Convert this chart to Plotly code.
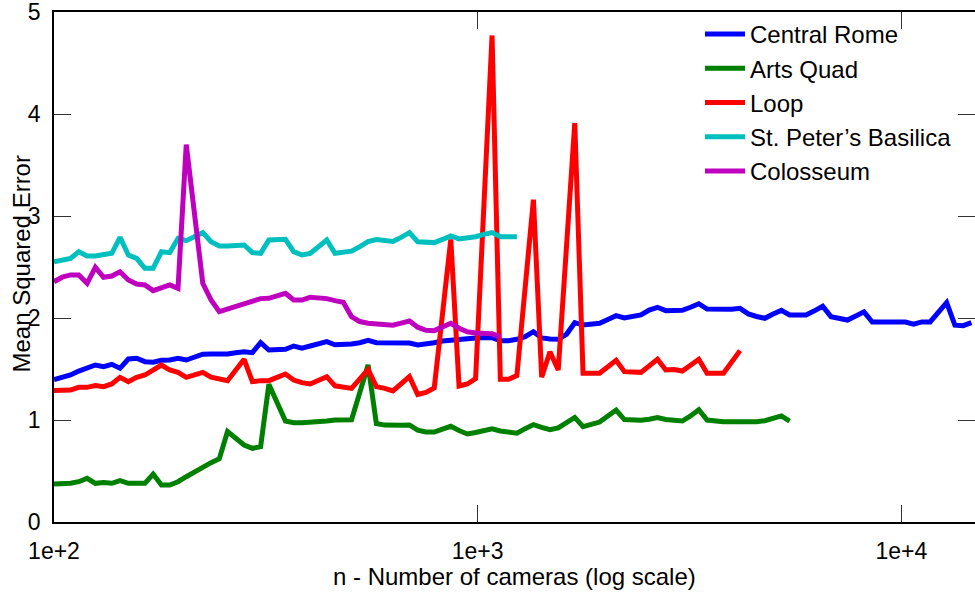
import plotly.graph_objects as go

# Number of cameras (sample grid, log-spaced)
n_cameras = [
    100, 104.6, 109.4, 114.4, 119.7, 125.2, 130.9, 136.9, 143.2, 149.8,
    156.7, 163.9, 171.4, 179.3, 187.6, 196.2, 205.2, 214.6, 224.5, 234.8,
    245.6, 256.8, 268.7, 281.0, 293.9, 307.4, 321.5, 336.3, 351.8, 367.9,
    384.8, 402.5, 421.0, 440.4, 460.6, 481.8, 503.9, 527.1, 551.3, 576.7,
    603.2, 630.9, 659.9, 690.2, 722.0, 755.2, 789.9, 826.2, 864.2, 903.9,
    945.5, 988.9, 1034, 1081.5, 1131.3, 1183.3, 1237.7, 1294.6, 1354.1, 1416.4,
    1481.5, 1549.6, 1620.9, 1695.4, 1773.3, 1854.8, 1940.1, 2029.3, 2122.6, 2220.2,
    2322.2, 2429.0, 2540.6, 2657.4, 2779.6, 2907.3, 3041.0, 3180.8, 3327.0, 3479.9,
    3637, 3805, 3979, 4162, 4354, 4554, 4763, 4982, 5211, 5450,
    5700, 5962, 6236, 6523, 6823, 7136, 7464, 7807, 8165, 8541,
    8933, 9343, 9773, 10222, 10692, 11183, 11697, 12234, 12796, 13384,
    13999, 14642,
]

central_rome = [
    1.395, 1.42, 1.441, 1.48, 1.507, 1.539, 1.523, 1.546, 1.507, 1.598,
    1.605, 1.572, 1.567, 1.585, 1.588, 1.605, 1.588, 1.621, 1.645, 1.647,
    1.647, 1.647, 1.66, 1.67, 1.66, 1.758, 1.686, 1.686, 1.693, 1.725,
    1.705, 1.725, 1.75, 1.768, 1.738, 1.738, 1.745, 1.758, 1.78, 1.758,
    1.758, 1.758, 1.758, 1.755, 1.735, 1.742, 1.758, 1.775, 1.784, 1.784,
    1.797, 1.804, 1.807, 1.807, 1.778, 1.778, 1.791, 1.817, 1.866, 1.805,
    1.794, 1.791, 1.84, 1.954, 1.931, 1.944, 1.948, 1.985, 2.023, 2.0,
    2.013, 2.03, 2.078, 2.105, 2.072, 2.078, 2.075, 2.105, 2.14, 2.088,
    2.085, 2.08, 2.085, 2.095, 2.04, 2.015, 1.997, 2.04, 2.075, 2.03,
    2.03, 2.03, 2.07, 2.115, 2.013, 2.0, 1.98, 2.02, 2.06, 1.96,
    1.96, 1.962, 1.965, 1.96, 1.94, 1.962, 1.962, 2.05, 2.15, 1.93,
    1.925, 1.955,
]

arts_quad = [
    0.373, 0.373, 0.38, 0.395, 0.428, 0.379, 0.386, 0.379, 0.405, 0.379,
    0.379, 0.379, 0.47, 0.363, 0.363, 0.395, 0.444, 0.493, 0.542, 0.582,
    0.62, 0.886, None, 0.755, 0.722, 0.739, 1.35, None, 0.99, 0.974,
    0.974, 0.977, 0.984, 0.99, 1.0, 1.0, 1.003, None, 1.54, 0.965,
    0.95, 0.945, 0.948, 0.951, 0.90, 0.882, 0.882, 0.91, 0.938, 0.897,
    0.863, 0.878, 0.895, 0.913, 0.892, 0.876, 0.87, 0.915, 0.955, 0.928,
    0.905, 0.922, 0.967, 1.025, 0.935, 0.958, 0.98, 1.04, 1.098, 1.004,
    1.0, 0.997, 1.007, 1.025, 1.005, 0.998, 0.99, 1.04, 1.1, 1.0,
    0.99, 0.984, 0.984, 0.984, 0.976, 0.984, 0.993, 1.016, 1.04, 0.99,
]

loop = [
    1.288, 1.29, 1.294, 1.32, 1.32, 1.337, 1.327, 1.353, 1.418, 1.376,
    1.418, 1.441, 1.484, 1.539, 1.49, 1.467, 1.418, 1.445, 1.467, 1.42,
    1.405, 1.385, None, 1.595, 1.376, 1.386, 1.386, 1.418, 1.451, 1.392,
    1.366, 1.353, 1.39, 1.425, 1.335, 1.32, 1.31, None, 1.495, 1.327,
    1.31, 1.285, None, 1.425, 1.25, 1.27, 1.315, None, 2.77, 1.333,
    1.353, 1.405, None, 4.77, 1.40, 1.40, 1.435, None, 3.16, 1.42,
    1.67, 1.49, None, 3.91, 1.458, 1.458, 1.458, None, 1.585, 1.474,
    1.47, 1.467, None, 1.595, 1.49, 1.495, 1.48, None, 1.595, 1.458,
    1.458, 1.458, None, 1.68,
]

st_peters = [
    2.552, 2.568, 2.585, 2.65, 2.608, 2.608, 2.618, 2.634, 2.79, 2.618,
    2.585, 2.487, 2.487, 2.65, 2.641, 2.781, 2.758, 2.80, 2.837, 2.748,
    2.706, 2.706, 2.71, 2.716, 2.641, 2.634, 2.765, 2.765, 2.771, 2.65,
    2.618, 2.634, 2.70, 2.765, 2.635, 2.645, 2.655, 2.70, 2.75, 2.77,
    2.765, 2.75, 2.79, 2.837, 2.748, 2.742, 2.739, 2.77, 2.804, 2.775,
    2.785, 2.797, 2.82, 2.837, 2.797, 2.797, 2.797,
]

colosseum = [
    2.356, 2.40, 2.422, 2.422, 2.34, 2.497, 2.399, 2.412, 2.454, 2.373,
    2.333, 2.324, 2.268, 2.30, 2.324, 2.29, 3.70, None, 2.34, 2.176,
    2.062, 2.085, 2.111, 2.137, 2.16, 2.19, 2.193, 2.22, 2.242, 2.176,
    2.176, 2.203, 2.20, 2.19, 2.17, 2.155, 2.013, 1.965, 1.948, 1.945,
    1.941, 1.93, 1.95, 1.97, 1.91, 1.88, 1.876, 1.91, 1.948, 1.90,
    1.865, 1.853, 1.85, 1.845, 1.815,
]

series_names = ["Central Rome", "Arts Quad", "Loop", "St. Peter\u2019s Basilica", "Colosseum"]
series_values = [central_rome, arts_quad, loop, st_peters, colosseum]
series_colors = ["#0000FF", "#008000", "#FF0000", "#00BFBF", "#BF00BF"]

x_tick_vals = [100, 1000, 10000]
x_tick_text = ["1e+2", "1e+3", "1e+4"]
y_tick_vals = [0, 1, 2, 3, 4, 5]

FONT = "Liberation Sans, Arial, Helvetica, sans-serif"

fig = go.Figure()
for name, vals, col in zip(series_names, series_values, series_colors):
    fig.add_trace(go.Scatter(
        x=n_cameras[:len(vals)], y=vals, name=name, mode="lines",
        line=dict(color=col, width=5), connectgaps=True,
    ))

# helper trace so the right-hand tick axis is drawn
fig.add_trace(go.Scatter(x=[None], y=[None], yaxis="y2", showlegend=False,
                         hoverinfo="skip"))

fig.update_layout(
    width=975, height=594,
    margin=dict(l=54, r=0, t=12, b=72),
    paper_bgcolor="white", plot_bgcolor="white",
    font=dict(family=FONT, color="black"),
    xaxis=dict(
        type="log", range=[2, 4.174],
        tickvals=x_tick_vals, ticktext=x_tick_text,
        ticks="inside", ticklen=17, tickwidth=1, tickcolor="#333",
        showline=True, linecolor="black", linewidth=1.5, mirror="ticks",
        showgrid=False, zeroline=False,
        tickfont=dict(size=23, family=FONT, color="black"),
        ticklabelstandoff=8, ticklabeloverflow="allow",
    ),
    yaxis=dict(
        range=[0, 5], tickvals=y_tick_vals,
        ticks="inside", ticklen=17, tickwidth=1, tickcolor="#333",
        showline=True, linecolor="black", linewidth=1.5,
        showgrid=False, zeroline=False,
        tickfont=dict(size=23, family=FONT, color="black"),
        ticklabelstandoff=7, ticklabeloverflow="allow",
    ),
    yaxis2=dict(
        overlaying="y", side="right", anchor="x", range=[0, 5],
        tickvals=[1, 2, 3, 4], ticks="inside", ticklen=17, tickwidth=1,
        tickcolor="#333", showticklabels=False, showline=False,
        showgrid=False, zeroline=False,
    ),
    legend=dict(
        x=0.7014, y=1.0, xanchor="left", yanchor="top",
        bgcolor="rgba(0,0,0,0)", borderwidth=0,
        font=dict(size=24, family=FONT, color="black"),
        itemwidth=40, tracegroupgap=0,
    ),
    annotations=[
        dict(text="n - Number of cameras (log scale)", xref="paper", yref="paper",
             x=0.5, y=-0.1078, xanchor="center", yanchor="middle", showarrow=False,
             font=dict(size=24, family=FONT, color="black")),
        dict(text="Mean Squared Error", xref="paper", yref="paper",
             x=-0.0358, y=0.505, xanchor="center", yanchor="middle", showarrow=False,
             textangle=-90, font=dict(size=24, family=FONT, color="black")),
    ],
)

fig.write_html("out.html")
